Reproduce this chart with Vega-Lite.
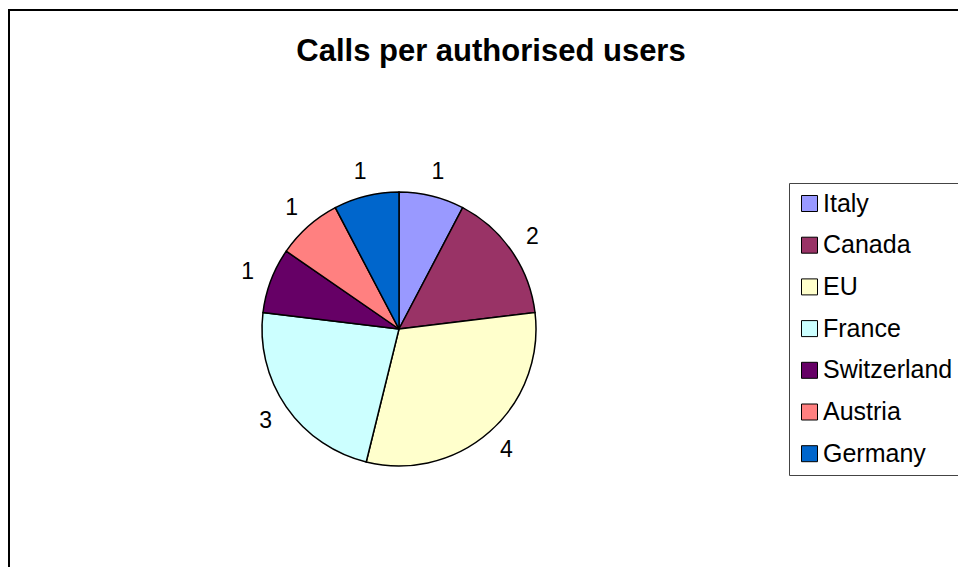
{
  "$schema": "https://vega.github.io/schema/vega-lite/v6.json",
  "width": 952,
  "height": 560,
  "autosize": {"type": "none"},
  "padding": {"left": 9, "top": 10, "right": 0, "bottom": 0},
  "background": "white",
  "view": {"stroke": "black", "strokeWidth": 2, "fill": "white"},
  "config": {"font": "Liberation Sans"},
  "title": {"text": "Calls per authorised users", "font": "Liberation Sans", "fontSize": 31, "fontWeight": "bold", "color": "black", "anchor": "middle", "baseline": "alphabetic", "offset": 0, "dy": 82, "dx": 6},
  "data": {"values": [
    {"country": "Italy", "calls": 1, "idx": 1},
    {"country": "Canada", "calls": 2, "idx": 2},
    {"country": "EU", "calls": 4, "idx": 3},
    {"country": "France", "calls": 3, "idx": 4},
    {"country": "Switzerland", "calls": 1, "idx": 5},
    {"country": "Austria", "calls": 1, "idx": 6},
    {"country": "Germany", "calls": 1, "idx": 7}
  ]},
  "encoding": {
    "theta": {"field": "calls", "type": "quantitative", "stack": true},
    "order": {"field": "idx", "type": "quantitative"}
  },
  "layer": [
    {
      "mark": {"type": "arc", "x": 390, "y": 319, "outerRadius": 137, "stroke": "black", "strokeWidth": 1.5, "opacity": 1},
      "encoding": {
        "color": {
          "field": "country", "type": "nominal",
          "sort": ["Italy", "Canada", "EU", "France", "Switzerland", "Austria", "Germany"],
          "scale": {"domain": ["Italy", "Canada", "EU", "France", "Switzerland", "Austria", "Germany"],
                    "range": ["#9999FF", "#993366", "#FFFFCC", "#CCFFFF", "#660066", "#FF8080", "#0066CC"]},
          "legend": {"orient": "none", "legendX": 780, "legendY": 173, "title": null, "symbolType": "square", "symbolSize": 256, "symbolStrokeColor": "black", "symbolStrokeWidth": 1, "symbolOpacity": 1, "labelFontSize": 25, "labelFont": "Liberation Sans", "labelColor": "black", "strokeColor": "#444", "fillColor": "white", "padding": 8, "rowPadding": 15.7, "labelOffset": 1, "labelLimit": 300}
        }
      }
    },
    {
      "mark": {"type": "text", "x": 390, "y": 319, "radius": 162, "fontSize": 23, "font": "Liberation Sans", "fill": "black"},
      "encoding": {
        "text": {"field": "calls", "type": "quantitative"},
        "detail": {"field": "country", "type": "nominal"}
      }
    }
  ]
}
